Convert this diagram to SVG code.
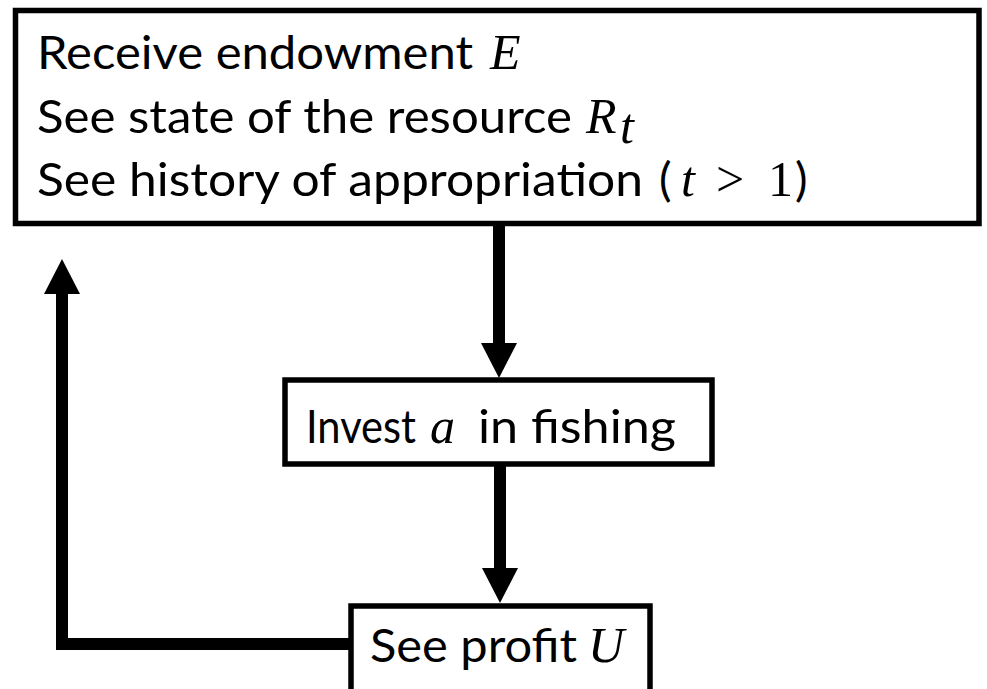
<svg xmlns="http://www.w3.org/2000/svg" width="987" height="689" viewBox="0 0 987 689">
<style>
.box{fill:#fff;stroke:#000;stroke-width:5.5}
.t{font-family:Lato,"Open Sans","Liberation Sans",sans-serif;font-size:47px;fill:#000}
.m{font-family:"Liberation Serif","DejaVu Serif",serif;font-style:italic;font-size:50px;fill:#000}
.mu{font-family:"Liberation Serif","DejaVu Serif",serif;font-size:50px;fill:#000}
.c{fill:none;stroke:#000;stroke-width:12;stroke-linejoin:miter}
</style>
<defs>
<marker id="ah" markerUnits="userSpaceOnUse" markerWidth="36" markerHeight="36" refX="0" refY="18" orient="auto" overflow="visible">
<path d="M0,0 L35,18 L0,36 z" fill="#000"/>
</marker>
</defs>
<rect width="987" height="689" fill="#fff"/>
<g id="connectors">
<path class="c" d="M499,225 L499,343" marker-end="url(#ah)"/>
<path class="c" d="M500,466 L500,568" marker-end="url(#ah)"/>
<path class="c" d="M352,644 L62,644 L62,294" marker-end="url(#ah)"/>
</g>
<g id="node-start">
<rect class="box" x="15.5" y="10.5" width="963.5" height="213"/>
<text class="t" x="37" y="69" textLength="436" lengthAdjust="spacingAndGlyphs">Receive endowment</text>
<text class="m" x="490" y="69">E</text>
<text class="t" x="37" y="133" textLength="535" lengthAdjust="spacingAndGlyphs">See state of the resource</text>
<text class="m" x="586" y="133">R</text>
<text class="m" x="620" y="143" font-size="36">t</text>
<text class="t" x="37" y="196" textLength="606" lengthAdjust="spacingAndGlyphs">See history of appropriation</text>
<text class="t" x="659" y="196">(</text>
<text class="m" x="681" y="196">t</text>
<text class="mu" x="716" y="196">&gt;</text>
<text class="mu" x="768" y="196">1</text>
<text class="t" x="795" y="196">)</text>
</g>
<g id="node-invest">
<rect class="box" x="285" y="380" width="427" height="84"/>
<text class="t" x="306" y="443" textLength="110" lengthAdjust="spacingAndGlyphs">Invest</text>
<text class="m" x="430" y="443">a</text>
<text class="t" x="478" y="443" textLength="198" lengthAdjust="spacingAndGlyphs">in fishing</text>
</g>
<g id="node-profit">
<rect class="box" x="351" y="606" width="299" height="100"/>
<text class="t" x="370" y="662" textLength="207" lengthAdjust="spacingAndGlyphs">See profit</text>
<text class="m" x="588" y="662">U</text>
</g>
</svg>
